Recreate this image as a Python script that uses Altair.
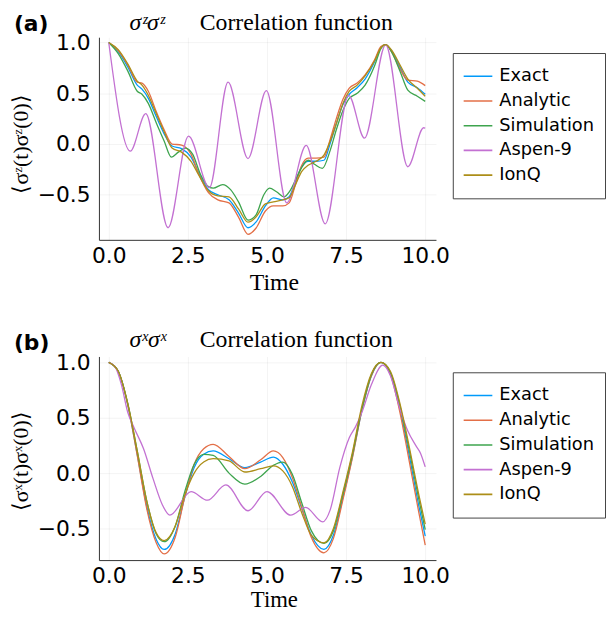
import altair as alt
import pandas as pd

SERIES = ["Exact", "Analytic", "Simulation", "Aspen-9", "IonQ"]
COLORS = ["#009AFA", "#E36F47", "#3EA44E", "#C371D2", "#AC8E18"]
X_TICKS = [0, 2.5, 5, 7.5, 10]
Y_TICKS = [-0.5, 0, 0.5, 1.0]
X_LABEL = "Time"
PANEL_TAGS = ["(a)", "(b)"]
PANEL_OPS = ["σᶻσᶻ", "σˣσˣ"]
PANEL_TITLE = "Correlation function"
Y_TITLES = ["⟨σᶻ(t)σᶻ(0)⟩", "⟨σˣ(t)σˣ(0)⟩"]

# ---------------- panel (a): sigma^z sigma^z ----------------
a_t = [0, 0.3, 0.6, 0.9, 1.05, 1.25, 1.5, 1.75, 2.0, 2.3, 2.6, 2.85, 3.15, 3.45, 3.8,
       4.1, 4.4, 4.65, 4.95, 5.2, 5.5, 5.7, 5.9, 6.1, 6.3, 6.55, 6.8, 7.0, 7.2, 7.4,
       7.6, 7.85, 8.1, 8.4, 8.6, 8.75, 8.95, 9.2, 9.45, 9.75, 10.0]
a_exact = [1.0, 0.91, 0.76, 0.58, 0.54, 0.45, 0.27, 0.10, -0.02, -0.045, -0.13, -0.29, -0.45,
           -0.50, -0.55, -0.68, -0.825, -0.77, -0.61, -0.53, -0.55, -0.52, -0.37, -0.22, -0.17,
           -0.17, -0.16, 0.01, 0.21, 0.39, 0.49, 0.555, 0.64, 0.81, 0.95, 0.98, 0.91, 0.76,
           0.61, 0.555, 0.49]
a_analytic = [1.0, 0.92, 0.78, 0.61, 0.60, 0.52, 0.32, 0.14, 0.0, -0.01, -0.10, -0.30, -0.48,
              -0.55, -0.58, -0.72, -0.89, -0.83, -0.66, -0.61, -0.61, -0.58, -0.40, -0.21,
              -0.14, -0.14, -0.13, 0.05, 0.26, 0.44, 0.55, 0.60, 0.68, 0.83, 0.96, 0.98, 0.90,
              0.74, 0.63, 0.62, 0.575]
a_sim_t = [0, 0.3, 0.6, 0.9, 1.05, 1.25, 1.5, 1.75, 1.98, 2.2, 2.42, 2.65, 2.9, 3.15, 3.3,
           3.6, 3.85, 4.1, 4.4, 4.65, 4.9, 5.08, 5.3, 5.54, 5.75, 5.95, 6.1, 6.3, 6.5, 6.75,
           7.0, 7.2, 7.4, 7.6, 7.85, 8.1, 8.4, 8.6, 8.75, 8.95, 9.2, 9.45, 9.75, 10.0]
a_sim = [1.0, 0.89, 0.72, 0.52, 0.49, 0.40, 0.21, 0.03, -0.13, -0.08, -0.04, -0.10, -0.30,
         -0.42, -0.435, -0.40, -0.45, -0.57, -0.75, -0.70, -0.50, -0.435, -0.47, -0.52, -0.45,
         -0.32, -0.23, -0.16, -0.20, -0.24, -0.06, 0.15, 0.33, 0.45, 0.50, 0.58, 0.77, 0.94,
         0.98, 0.90, 0.72, 0.53, 0.47, 0.42]
a_aspen_t = [0, 0.68, 1.17, 1.875, 2.52, 3.18, 3.77, 4.40, 4.98, 5.625, 6.24, 6.84, 7.58,
             8.08, 8.75, 9.45, 9.95, 10.0]
a_aspen = [1.0, -0.07, 0.30, -0.825, 0.078, -0.43, 0.61, -0.143, 0.526, -0.58, -0.013,
           -0.786, 0.48, 0.058, 0.977, -0.224, 0.16, 0.155]
a_ionq = [1.0, 0.93, 0.79, 0.62, 0.58, 0.48, 0.30, 0.12, -0.04, -0.08, -0.17, -0.31, -0.46,
          -0.51, -0.52, -0.64, -0.77, -0.72, -0.59, -0.57, -0.55, -0.53, -0.40, -0.27, -0.21,
          -0.17, -0.11, 0.03, 0.21, 0.40, 0.52, 0.58, 0.67, 0.82, 0.95, 0.98, 0.92, 0.78,
          0.64, 0.55, 0.47]

# ---------------- panel (b): sigma^x sigma^x ----------------
b_t = [0, 0.3, 0.6, 0.9, 1.2, 1.5, 1.75, 2.1, 2.4, 2.7, 3.0, 3.3, 3.8, 4.3, 4.8, 5.2, 5.5,
       5.8, 6.1, 6.4, 6.8, 7.1, 7.4, 7.7, 8.0, 8.3, 8.6, 8.9, 9.2, 9.5, 9.8, 10.0]
b_exact = [1.0, 0.92, 0.62, 0.17, -0.30, -0.60, -0.69, -0.55, -0.22, 0.05, 0.17, 0.20, 0.13,
           0.05, 0.10, 0.145, 0.08, -0.08, -0.32, -0.56, -0.69, -0.56, -0.22, 0.15, 0.57,
           0.88, 1.0, 0.90, 0.58, 0.15, -0.30, -0.57]
b_analytic = [1.0, 0.92, 0.62, 0.16, -0.32, -0.63, -0.73, -0.58, -0.22, 0.08, 0.22, 0.26,
              0.15, 0.04, 0.12, 0.20, 0.14, -0.04, -0.31, -0.58, -0.72, -0.59, -0.24, 0.14,
              0.57, 0.88, 1.0, 0.89, 0.55, 0.10, -0.36, -0.65]
b_sim = [1.0, 0.92, 0.63, 0.20, -0.25, -0.55, -0.62, -0.48, -0.17, 0.08, 0.17, 0.16, 0.0,
         -0.10, -0.03, 0.07, 0.10, -0.01, -0.27, -0.52, -0.635, -0.52, -0.19, 0.17, 0.58,
         0.89, 1.0, 0.91, 0.61, 0.20, -0.24, -0.51]
b_aspen_t = [0, 0.2, 0.4, 0.6, 0.8, 1.1, 1.4, 1.7, 1.93, 2.6, 3.12, 3.7, 4.4, 5.0, 5.75,
             6.22, 6.76, 7.0, 7.3, 7.6, 7.8, 8.0, 8.3, 8.66, 8.9, 9.2, 9.45, 9.7, 9.85, 10.0]
b_aspen = [1.0, 0.96, 0.80, 0.55, 0.41, 0.22, -0.05, -0.29, -0.38, -0.167, -0.245, -0.107,
           -0.34, -0.167, -0.38, -0.31, -0.44, -0.33, 0.05, 0.32, 0.42, 0.55, 0.80, 0.975,
           0.88, 0.58, 0.38, 0.25, 0.18, 0.056]
b_ionq = [1.0, 0.92, 0.63, 0.20, -0.25, -0.54, -0.61, -0.48, -0.20, 0.0, 0.10, 0.13, 0.11,
          0.01, 0.04, 0.065, 0.02, -0.12, -0.36, -0.56, -0.63, -0.50, -0.17, 0.19, 0.61,
          0.90, 1.0, 0.92, 0.63, 0.23, -0.20, -0.46]


def frame(pairs):
    rows = []
    for name, (ts, vs) in zip(SERIES, pairs):
        for t, v in zip(ts, vs):
            rows.append({"series": name, "t": t, "v": v})
    return pd.DataFrame(rows)


df_a = frame([(a_t, a_exact), (a_t, a_analytic), (a_sim_t, a_sim),
              (a_aspen_t, a_aspen), (a_t, a_ionq)])
df_b = frame([(b_t, b_exact), (b_t, b_analytic), (b_t, b_sim),
              (b_aspen_t, b_aspen), (b_t, b_ionq)])

AXIS_COMMON = dict(labelFont="DejaVu Sans", labelFontSize=22, labelColor="black",
                   ticks=False, tickSize=0, domainColor="#333333", domainWidth=1,
                   grid=True, gridColor="black", gridOpacity=0.1, gridWidth=0.5,
                   labelFlush=False)


def one():
    return alt.Data(values=[{}])


def anchor(x, y):
    return alt.Chart(one()).mark_rule(opacity=0).encode(
        x=alt.value(x), x2=alt.value(x), y=alt.value(y), y2=alt.value(y))


def label(txt, x, y, size, font, style="normal", weight="normal", angle=0,
          align="left", baseline="alphabetic"):
    return alt.Chart(one()).mark_text(
        text=txt, font=font, fontSize=size, fontStyle=style, fontWeight=weight,
        angle=angle, align=align, baseline=baseline, color="black"
    ).encode(x=alt.value(x), y=alt.value(y))


def panel(df, ydom, height, i, title_y, tag_y, ytitle_y, legend_y, time_pad, time_size,
          extra):
    lines = alt.Chart(df).mark_line(strokeWidth=1.3, interpolate="monotone").encode(
        x=alt.X("t:Q", scale=alt.Scale(domain=[-0.31, 10.34], nice=False, zero=False),
                axis=alt.Axis(values=X_TICKS, format=".1f", title=X_LABEL, labelPadding=6,
                              titleFont="Liberation Serif", titleFontSize=time_size,
                              titleFontWeight="normal", titleColor="black",
                              titlePadding=time_pad, titleX=177, **AXIS_COMMON)),
        y=alt.Y("v:Q", scale=alt.Scale(domain=ydom, nice=False, zero=False),
                axis=alt.Axis(values=Y_TICKS, format=".1f", title=None, labelPadding=9,
                              **AXIS_COMMON)),
        color=alt.Color("series:N", scale=alt.Scale(domain=SERIES, range=COLORS),
                        sort=SERIES,
                        legend=alt.Legend(title=None, orient="none", legendX=358,
                                          legendY=legend_y, direction="vertical",
                                          symbolType="stroke", symbolSize=1089,
                                          symbolStrokeWidth=1.6, clipHeight=25,
                                          rowPadding=0, padding=11, strokeColor="#444444",
                                          fillColor="white", labelFont="DejaVu Sans",
                                          labelFontSize=18, labelColor="black",
                                          labelOffset=6, symbolOffset=-5,
                                          labelLimit=300)),
    )
    layers = extra + [
        lines,
        label(PANEL_TAGS[i], -86, tag_y, 22, "DejaVu Sans", weight="bold"),
        label(PANEL_OPS[i], 31, title_y, 24, "Liberation Serif", style="italic"),
        label(PANEL_TITLE, 102, title_y, 24, "Liberation Serif"),
        label(Y_TITLES[i], -79, ytitle_y, 22, "Liberation Serif", angle=270,
              align="center", baseline="middle"),
    ]
    return alt.layer(*layers).properties(width=341, height=height)


chart_a = panel(df_a, [-0.944, 1.052], 205, 0, -7, -6, 108, 16, 4, 24,
                [anchor(-92, -26), anchor(-92, 266)])
chart_b = panel(df_b, [-0.786, 1.054], 206, 1, -10, -7, 106, 16, 2, 23,
                [anchor(-92, -30)])

chart = (
    alt.vconcat(chart_a, chart_b, spacing=27)
    .resolve_scale(color="independent", x="independent", y="independent")
    .resolve_legend(color="independent")
    .properties(padding=0)
    .configure_view(stroke=None)
)

chart.save("out.html", embed_options={"renderer": "svg", "actions": False})
